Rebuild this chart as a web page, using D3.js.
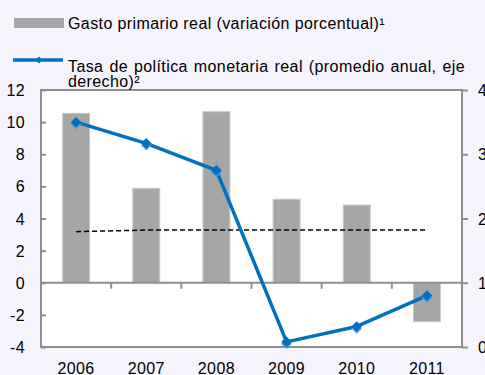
<!DOCTYPE html>
<html>
<head>
<meta charset="utf-8">
<script src="https://cdn.jsdelivr.net/npm/d3@7"></script>
<style>
  html, body { margin: 0; padding: 0; background: #F5F3FC; }
  svg { display: block; font-family: "Liberation Sans", Arial, sans-serif; }
  svg text { letter-spacing: 0.4px; }
</style>
</head>
<body>
<svg id="chart" width="485" height="375"></svg>
<script>
// Categories and series
const years = ["2006", "2007", "2008", "2009", "2010", "2011"];
const gastoPrimario = [10.55, 5.88, 10.65, 5.2, 4.84, -2.42];   // left axis, %
const tasaPolitica = [3.5, 3.17, 2.75, 0.08, 0.32, 0.8];         // right axis, %
const promedioGasto = [3.18, 3.28, 3.28, 3.28, 3.28, 3.28];     // dashed reference, left axis
const leftTicks = [-4, -2, 0, 2, 4, 6, 8, 10, 12];
const rightTicks = [0, 1, 2, 3, 4];

const legendBar = "Gasto primario real (variación porcentual)¹";
const legendLine1 = "Tasa de política monetaria real (promedio anual, eje";
const legendLine2 = "derecho)²";

const svg = d3.select("#chart");
const plot = { left: 41, right: 462, top: 90, bottom: 347 };

const x = d3.scaleBand().domain(years).range([plot.left, plot.right]).padding(0);
const yL = d3.scaleLinear().domain([-4, 12]).range([plot.bottom, plot.top]);
const yR = d3.scaleLinear().domain([0, 4]).range([plot.bottom, plot.top]);

const axisColor = "#8E8E8E";
const blue = "#0070C0";
const fontSize = 16;
const fmt = (d) => (d < 0 ? "-" + (-d) : String(d));   // plain hyphen for negatives

// plot area
svg.append("rect")
  .attr("x", plot.left).attr("y", plot.top)
  .attr("width", plot.right - plot.left).attr("height", plot.bottom - plot.top)
  .attr("fill", "#fff");

// bars
const barW = 27;
svg.append("g").selectAll("rect").data(years).join("rect")
  .attr("x", (d) => x(d) + x.bandwidth() / 2 - barW / 2)
  .attr("width", barW)
  .attr("y", (d, i) => yL(Math.max(0, gastoPrimario[i])))
  .attr("height", (d, i) => Math.abs(yL(gastoPrimario[i]) - yL(0)))
  .attr("fill", "#A6A6A6")
  .attr("stroke", "#C8C8C8").attr("stroke-width", 1);

// dashed reference line
const dashed = d3.line()
  .x((d, i) => x(years[i]) + x.bandwidth() / 2)
  .y((d) => yL(d));
svg.append("path").datum(promedioGasto)
  .attr("d", dashed)
  .attr("fill", "none").attr("stroke", "#000")
  .attr("stroke-width", 1.5).attr("stroke-dasharray", "5,3");

// frame
svg.append("rect")
  .attr("x", plot.left).attr("y", plot.top)
  .attr("width", plot.right - plot.left).attr("height", plot.bottom - plot.top)
  .attr("fill", "none").attr("stroke", axisColor).attr("stroke-width", 2);

// left axis (ticks pointing inside)
const gL = svg.append("g").attr("transform", `translate(${plot.left},0)`)
  .call(d3.axisRight(yL).tickValues(leftTicks).tickSize(5).tickFormat(fmt));
gL.select(".domain").remove();
gL.selectAll(".tick line").attr("stroke", axisColor).attr("stroke-width", 2);
gL.selectAll(".tick text")
  .attr("x", -16).attr("text-anchor", "end").attr("dy", "0.35em")
  .attr("font-size", fontSize).attr("fill", "#000")
  .attr("font-family", "Liberation Sans, Arial, sans-serif");

// right axis (ticks pointing outside)
const gR = svg.append("g").attr("transform", `translate(${plot.right},0)`)
  .call(d3.axisRight(yR).tickValues(rightTicks).tickSize(6).tickFormat(fmt));
gR.select(".domain").remove();
gR.selectAll(".tick line").attr("stroke", axisColor).attr("stroke-width", 2);
gR.selectAll(".tick text")
  .attr("x", 16).attr("dy", "0.35em")
  .attr("font-size", fontSize).attr("fill", "#000")
  .attr("font-family", "Liberation Sans, Arial, sans-serif");

// zero line with category separators
svg.append("line")
  .attr("x1", plot.left).attr("x2", plot.right)
  .attr("y1", yL(0)).attr("y2", yL(0))
  .attr("stroke", axisColor).attr("stroke-width", 2);
svg.append("g").selectAll("line").data(years.slice(1)).join("line")
  .attr("x1", (d) => x(d)).attr("x2", (d) => x(d))
  .attr("y1", yL(0)).attr("y2", yL(0) + 6)
  .attr("stroke", axisColor).attr("stroke-width", 2);

// category labels
svg.append("g").selectAll("text").data(years).join("text")
  .attr("x", (d) => x(d) + x.bandwidth() / 2)
  .attr("y", 374)
  .attr("text-anchor", "middle")
  .attr("font-size", fontSize)
  .text((d) => d);

// policy rate line
const line = d3.line()
  .x((d, i) => x(years[i]) + x.bandwidth() / 2)
  .y((d) => yR(d));
svg.append("path").datum(tasaPolitica)
  .attr("d", line)
  .attr("fill", "none").attr("stroke", blue)
  .attr("stroke-width", 3.5).attr("stroke-linejoin", "round");

const diamond = d3.symbol().type(d3.symbolDiamond2).size(70);
const markers = svg.append("g").selectAll("g").data(tasaPolitica).join("g")
  .attr("transform", (d, i) => `translate(${x(years[i]) + x.bandwidth() / 2},${yR(d)})`);
markers.append("path").attr("d", diamond).attr("transform", "translate(0,2)")
  .attr("fill", "#4A9AE0");
markers.append("path").attr("d", diamond).attr("fill", blue);

// legend
const lg = svg.append("g");
lg.append("rect").attr("x", 14).attr("y", 18).attr("width", 50).attr("height", 10)
  .attr("fill", "#A6A6A6");
lg.append("text").attr("x", 68).attr("y", 29).attr("font-size", fontSize).text(legendBar);

lg.append("line").attr("x1", 13).attr("x2", 63).attr("y1", 60).attr("y2", 60)
  .attr("stroke", blue).attr("stroke-width", 3.5);
lg.append("path").attr("d", d3.symbol().type(d3.symbolDiamond2).size(30)())
  .attr("transform", "translate(39,60)").attr("fill", blue);

const t1 = lg.append("text").attr("x", 68).attr("y", 72).attr("font-size", fontSize).text(legendLine1);
// spread words so the first line spans the legend width
const natural = t1.node().getComputedTextLength();
const spaces = (legendLine1.match(/ /g) || []).length;
const extra = (465 - 68 - natural) / spaces;
if (extra > 0) t1.attr("word-spacing", extra);
lg.append("text").attr("x", 68).attr("y", 86.5).attr("font-size", fontSize).text(legendLine2);
</script>
</body>
</html>
